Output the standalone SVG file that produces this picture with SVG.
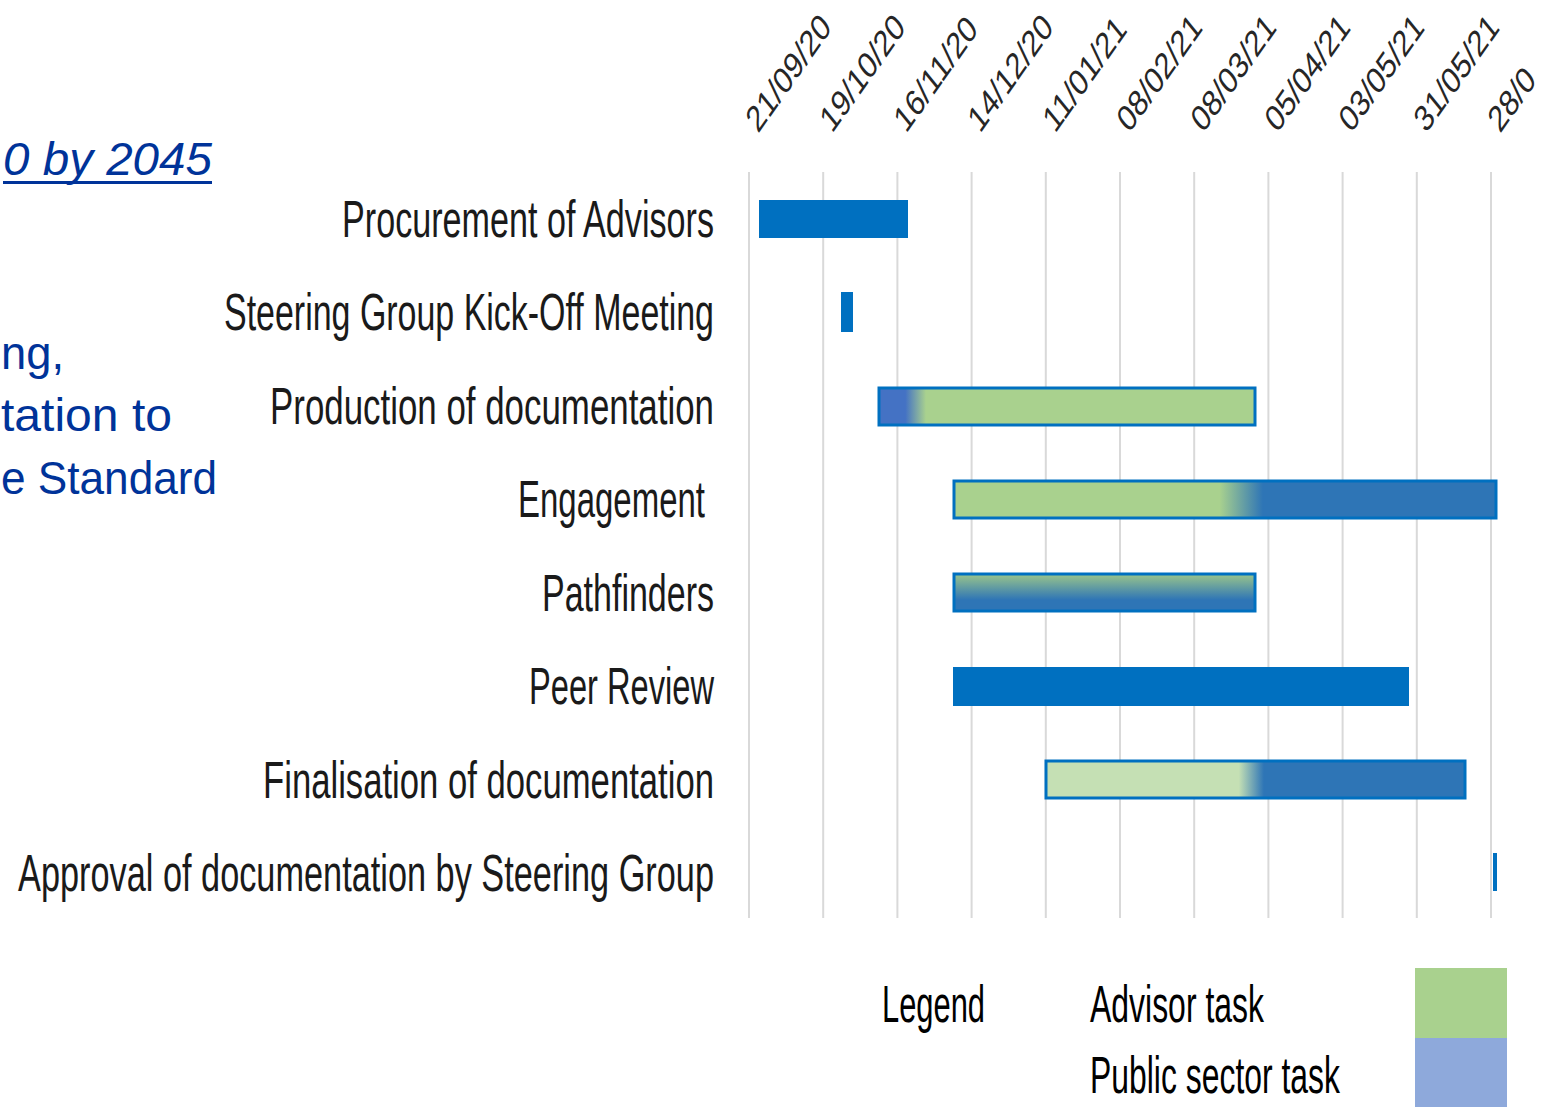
<svg xmlns="http://www.w3.org/2000/svg" width="1568" height="1107" viewBox="0 0 1568 1107">
<defs>
<style>
.bg{fill:#fff}
.grid line{stroke:#D9D9D9;stroke-width:2}
.lbl{font-family:"Liberation Sans",Arial,sans-serif;font-size:52px;fill:#1a1a1a;text-anchor:end}
.date{font-family:"Liberation Sans",Arial,sans-serif;font-size:37px;fill:#262626}
.slide{font-family:"Liberation Sans",Arial,sans-serif;font-size:46px;fill:#003399}
.leg{font-family:"Liberation Sans",Arial,sans-serif;font-size:52px;fill:#000}
.solid{fill:#0070C0}
.brd{stroke:#0070C0;stroke-width:3}
</style>
<linearGradient id="gProd" x1="0" y1="0" x2="1" y2="0">
<stop offset="0.07" stop-color="#4472C4"/><stop offset="0.125" stop-color="#A9D18E"/>
</linearGradient>
<linearGradient id="gEng" x1="0" y1="0" x2="1" y2="0">
<stop offset="0.49" stop-color="#A9D18E"/><stop offset="0.57" stop-color="#2E75B6"/>
</linearGradient>
<linearGradient id="gPath" x1="0" y1="0" x2="0" y2="1">
<stop offset="0.05" stop-color="#93C08E"/><stop offset="0.7" stop-color="#2E75B6"/>
</linearGradient>
<linearGradient id="gFin" x1="0" y1="0" x2="1" y2="0">
<stop offset="0.46" stop-color="#C5E0B4"/><stop offset="0.52" stop-color="#2E75B6"/>
</linearGradient>
<clipPath id="clipR"><rect x="0" y="0" width="1541" height="1107"/></clipPath>
</defs>
<rect class="bg" x="0" y="0" width="1568" height="1107"/>

<g id="slide-text">
<text class="slide" x="3" y="175" font-style="italic" textLength="209" lengthAdjust="spacingAndGlyphs">0 by 2045</text>
<rect x="3" y="181" width="209" height="3" fill="#003399"/>
<text class="slide" x="1" y="369" textLength="63" lengthAdjust="spacingAndGlyphs">ng,</text>
<text class="slide" x="1" y="431" textLength="171" lengthAdjust="spacingAndGlyphs">tation to</text>
<text class="slide" x="1" y="494" textLength="216" lengthAdjust="spacingAndGlyphs">e Standard</text>
</g>

<g class="grid" id="gridlines">
<line x1="749" y1="172" x2="749" y2="918"/>
<line x1="823.2" y1="172" x2="823.2" y2="918"/>
<line x1="897.4" y1="172" x2="897.4" y2="918"/>
<line x1="971.6" y1="172" x2="971.6" y2="918"/>
<line x1="1045.8" y1="172" x2="1045.8" y2="918"/>
<line x1="1120" y1="172" x2="1120" y2="918"/>
<line x1="1194.2" y1="172" x2="1194.2" y2="918"/>
<line x1="1268.4" y1="172" x2="1268.4" y2="918"/>
<line x1="1342.6" y1="172" x2="1342.6" y2="918"/>
<line x1="1416.8" y1="172" x2="1416.8" y2="918"/>
<line x1="1491" y1="172" x2="1491" y2="918"/>
</g>

<g id="date-axis" clip-path="url(#clipR)">
<text class="date" transform="translate(758,134) scale(0.76,1) rotate(-47)">21/09/20</text>
<text class="date" transform="translate(832,134) scale(0.76,1) rotate(-47)">19/10/20</text>
<text class="date" transform="translate(906,134) scale(0.76,1) rotate(-47)">16/11/20</text>
<text class="date" transform="translate(980,134) scale(0.76,1) rotate(-47)">14/12/20</text>
<text class="date" transform="translate(1055,134) scale(0.76,1) rotate(-47)">11/01/21</text>
<text class="date" transform="translate(1129,134) scale(0.76,1) rotate(-47)">08/02/21</text>
<text class="date" transform="translate(1203,134) scale(0.76,1) rotate(-47)">08/03/21</text>
<text class="date" transform="translate(1277,134) scale(0.76,1) rotate(-47)">05/04/21</text>
<text class="date" transform="translate(1351,134) scale(0.76,1) rotate(-47)">03/05/21</text>
<text class="date" transform="translate(1426,134) scale(0.76,1) rotate(-47)">31/05/21</text>
<text class="date" transform="translate(1500,134) scale(0.76,1) rotate(-47)">28/0</text>
</g>

<g id="task-procurement">
<text class="lbl" x="714" y="237" textLength="372" lengthAdjust="spacingAndGlyphs">Procurement of Advisors</text>
<rect class="solid" x="759" y="200" width="149" height="38"/>
</g>
<g id="task-kickoff">
<text class="lbl" x="714" y="330" textLength="490" lengthAdjust="spacingAndGlyphs">Steering Group Kick-Off Meeting</text>
<rect class="solid" x="841" y="292" width="12" height="40"/>
</g>
<g id="task-production">
<text class="lbl" x="714" y="424" textLength="444" lengthAdjust="spacingAndGlyphs">Production of documentation</text>
<rect class="brd" x="879" y="388" width="376" height="37" fill="url(#gProd)"/>
</g>
<g id="task-engagement">
<text class="lbl" x="705" y="517" textLength="187" lengthAdjust="spacingAndGlyphs">Engagement</text>
<rect class="brd" x="954" y="481" width="542" height="37" fill="url(#gEng)"/>
</g>
<g id="task-pathfinders">
<text class="lbl" x="714" y="611" textLength="172" lengthAdjust="spacingAndGlyphs">Pathfinders</text>
<rect class="brd" x="954" y="574" width="301" height="37" fill="url(#gPath)"/>
</g>
<g id="task-peer-review">
<text class="lbl" x="714" y="704" textLength="185" lengthAdjust="spacingAndGlyphs">Peer Review</text>
<rect class="solid" x="953" y="667" width="456" height="39"/>
</g>
<g id="task-finalisation">
<text class="lbl" x="714" y="798" textLength="451" lengthAdjust="spacingAndGlyphs">Finalisation of documentation</text>
<rect class="brd" x="1046" y="761" width="419" height="37" fill="url(#gFin)"/>
</g>
<g id="task-approval">
<text class="lbl" x="714" y="891" textLength="696" lengthAdjust="spacingAndGlyphs">Approval of documentation by Steering Group</text>
<rect class="solid" x="1493" y="853" width="4" height="38"/>
</g>

<g id="legend">
<text class="leg" x="882" y="1022" textLength="103" lengthAdjust="spacingAndGlyphs">Legend</text>
<text class="leg" x="1090" y="1022" textLength="174" lengthAdjust="spacingAndGlyphs">Advisor task</text>
<text class="leg" x="1090" y="1093" textLength="250" lengthAdjust="spacingAndGlyphs">Public sector task</text>
<rect x="1415" y="968" width="92" height="70" fill="#A9D18E"/>
<rect x="1415" y="1038" width="92" height="69" fill="#8EA9DB"/>
</g>
<g id="connectors"/>
</svg>
